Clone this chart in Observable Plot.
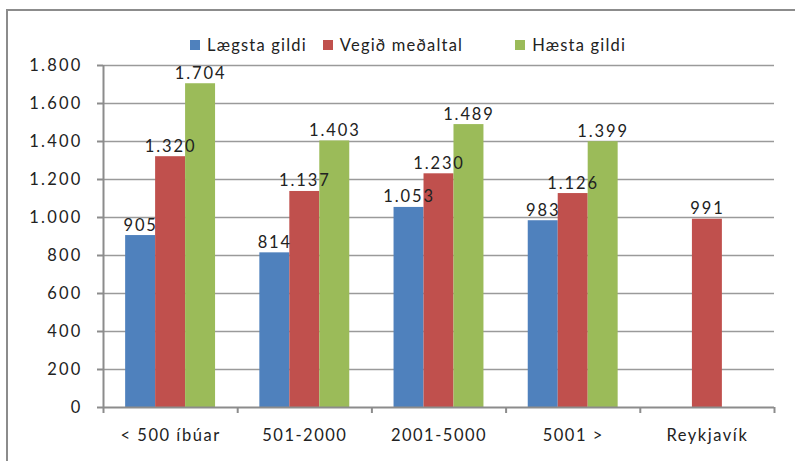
<!DOCTYPE html>
<html>
<head>
<meta charset="utf-8">
<script src="https://cdn.jsdelivr.net/npm/d3@7"></script>
<script src="https://cdn.jsdelivr.net/npm/@observablehq/plot@0.6"></script>
<style>
  html, body { margin: 0; padding: 0; background: #fff; overflow: hidden; }
  body { width: 795px; height: 461px; position: relative; font-family: Lato, "Open Sans", sans-serif; }
  #frame { position: absolute; left: 6px; top: 9px; width: 820px; height: 480px; border: 2px solid #8c8c8c; box-sizing: border-box; }
  #chart { position: absolute; left: 0; top: 0; }
  #legend { position: absolute; left: 190px; top: 35px; display: flex; align-items: center; font-size: 16.5px; color: #222; letter-spacing: 1.2px; }
  #legend .item { display: flex; align-items: center; margin-right: 16px; }
  #legend .item:nth-child(2) { margin-right: 52px; }
  #legend .sw { width: 10px; height: 10px; margin-right: 7px; }
  #chart g[aria-label="y-axis tick label"] text { letter-spacing: 2.2px; }
  #chart g[aria-label="x-axis tick label"] text { letter-spacing: 1.5px; }
  #chart g[aria-label="text"] text { letter-spacing: 1.9px; }
</style>
</head>
<body>
<div id="frame"></div>
<div id="chart"></div>
<div id="legend"></div>
<script>
const categories = ["< 500 íbúar", "501-2000", "2001-5000", "5001 >", "Reykjavík"];
const seriesNames = ["Lægsta gildi", "Vegið meðaltal", "Hæsta gildi"];
const lowest  = [905, 814, 1053, 983, null];
const average = [1320, 1137, 1230, 1126, 991];
const highest = [1704, 1403, 1489, 1399, null];
const yTicks = [0, 200, 400, 600, 800, 1000, 1200, 1400, 1600, 1800];
const colors = ["#4F81BD", "#C0504D", "#9BBB59"];

const seriesValues = [lowest, average, highest];
const outerPad = 0.165;
const barW = (1 - 2 * outerPad) / seriesNames.length;

const rows = [];
categories.forEach((cat, i) => {
  seriesNames.forEach((s, j) => {
    const v = seriesValues[j][i];
    if (v == null) return;
    const x1 = i + outerPad + j * barW;
    rows.push({category: cat, series: s, value: v, x1, x2: x1 + barW, xc: x1 + barW / 2});
  });
});

const locale = d3.formatLocale({decimal: ",", thousands: ".", grouping: [3], currency: ["", ""]});
const fmt = locale.format(",");

const boundaries = d3.range(categories.length + 1);
const centers = categories.map((c, i) => i + 0.5);

const chart = Plot.plot({
  width: 795,
  height: 461,
  marginLeft: 103,
  marginRight: 21,
  marginTop: 65,
  marginBottom: 54,
  style: {fontFamily: "Lato, 'Open Sans', sans-serif", fontSize: "16px", color: "#222", background: "transparent"},
  x: {type: "linear", domain: [0, categories.length], axis: null},
  y: {domain: [0, 1800], axis: null},
  color: {domain: seriesNames, range: colors},
  marks: [
    Plot.gridY(yTicks.filter(d => d > 0), {stroke: "#9a9a9a", strokeOpacity: 1, strokeWidth: 1.4}),
    Plot.rectY(rows, {x1: "x1", x2: "x2", y: "value", fill: "series"}),
    Plot.ruleX([0], {stroke: "#8c8c8c", strokeWidth: 2}),
    Plot.ruleY([0], {stroke: "#8c8c8c", strokeWidth: 2}),
    Plot.axisY({ticks: yTicks, tickFormat: fmt, tickSize: 6, tickPadding: 15, stroke: "#8c8c8c", strokeWidth: 2, fill: "#222", fontSize: 16.5, label: null}),
    Plot.axisX({ticks: boundaries, tickFormat: () => "", tickSize: 6, stroke: "#8c8c8c", strokeWidth: 2, label: null}),
    Plot.axisX({ticks: centers, tickFormat: (d) => categories[Math.floor(d)], tickSize: 0, tickPadding: 22, fill: "#222", fontSize: 16.5, label: null}),
    Plot.text(rows, {x: "xc", y: "value", text: d => fmt(d.value), dy: -5, lineAnchor: "bottom", fill: "#222", fontSize: 16.5})
  ]
});
document.getElementById("chart").appendChild(chart);

const legend = document.getElementById("legend");
seriesNames.forEach((s, j) => {
  const item = document.createElement("div");
  item.className = "item";
  const sw = document.createElement("div");
  sw.className = "sw";
  sw.style.background = colors[j];
  const t = document.createElement("span");
  t.textContent = s;
  item.appendChild(sw);
  item.appendChild(t);
  legend.appendChild(item);
});
</script>
</body>
</html>
